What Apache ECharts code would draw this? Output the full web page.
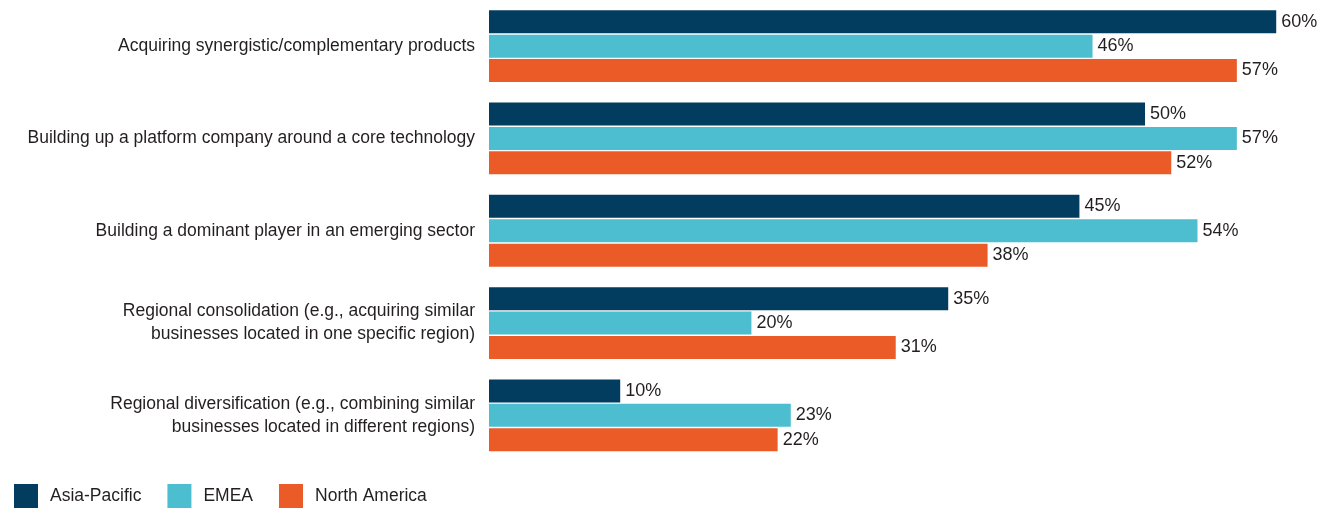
<!DOCTYPE html>
<html>
<head>
<meta charset="utf-8">
<script src="https://cdn.jsdelivr.net/npm/echarts@6/dist/echarts.min.js"></script>
<style>
  html, body { margin: 0; padding: 0; background: #fff; }
  #chart { width: 1335px; height: 508px; }
</style>
</head>
<body>
<div id="chart"></div>
<script>
// Strategy categories (top to bottom)
const categories = [
  'Acquiring synergistic/complementary products',
  'Building up a platform company around a core technology',
  'Building a dominant player in an emerging sector',
  'Regional consolidation (e.g., acquiring similar\nbusinesses located in one specific region)',
  'Regional diversification (e.g., combining similar\nbusinesses located in different regions)'
];

// Share of respondents (%) by region
const asiaPacific  = [60, 50, 45, 35, 10];
const emea         = [46, 57, 54, 20, 23];
const northAmerica = [57, 52, 38, 31, 22];

const seriesNames = ['Asia-Pacific', 'EMEA', 'North America'];
const colors = ['#023c5f', '#4dbecf', '#ea5b27'];

const FONT = '"Liberation Sans", Arial, sans-serif';
const TEXT = '#231f20';

const chart = echarts.init(document.getElementById('chart'), null, { renderer: 'canvas' });

function barSeries(name, data, color) {
  return {
    name: name,
    type: 'bar',
    data: data,
    barWidth: 23,
    barGap: '6%',
    itemStyle: { color: color },
    label: {
      show: true,
      position: 'right',
      distance: 5,
      formatter: '{c}%',
      color: TEXT,
      fontFamily: FONT,
      fontSize: 18
    },
    emphasis: { disabled: true }
  };
}

chart.setOption({
  animation: false,
  grid: { left: 489, right: 6.3, top: 0, height: 461.5, containLabel: false },
  legend: {
    left: 14,
    top: 484,
    padding: 0,
    itemWidth: 24,
    itemHeight: 24,
    itemGap: 26,
    icon: 'rect',
    selectedMode: false,
    data: seriesNames,
    textStyle: { color: TEXT, fontFamily: FONT, fontSize: 17.5, padding: [3, 0, 0, 7] }
  },
  xAxis: {
    type: 'value',
    min: 0,
    max: 64,
    show: false
  },
  yAxis: {
    type: 'category',
    inverse: true,
    data: categories,
    axisLine: { show: false },
    axisTick: { show: false },
    axisLabel: {
      margin: 14,
      color: TEXT,
      fontFamily: FONT,
      fontSize: 17.5,
      lineHeight: 23,
      align: 'right'
    }
  },
  series: [
    barSeries(seriesNames[0], asiaPacific, colors[0]),
    barSeries(seriesNames[1], emea, colors[1]),
    barSeries(seriesNames[2], northAmerica, colors[2])
  ]
});
</script>
</body>
</html>
